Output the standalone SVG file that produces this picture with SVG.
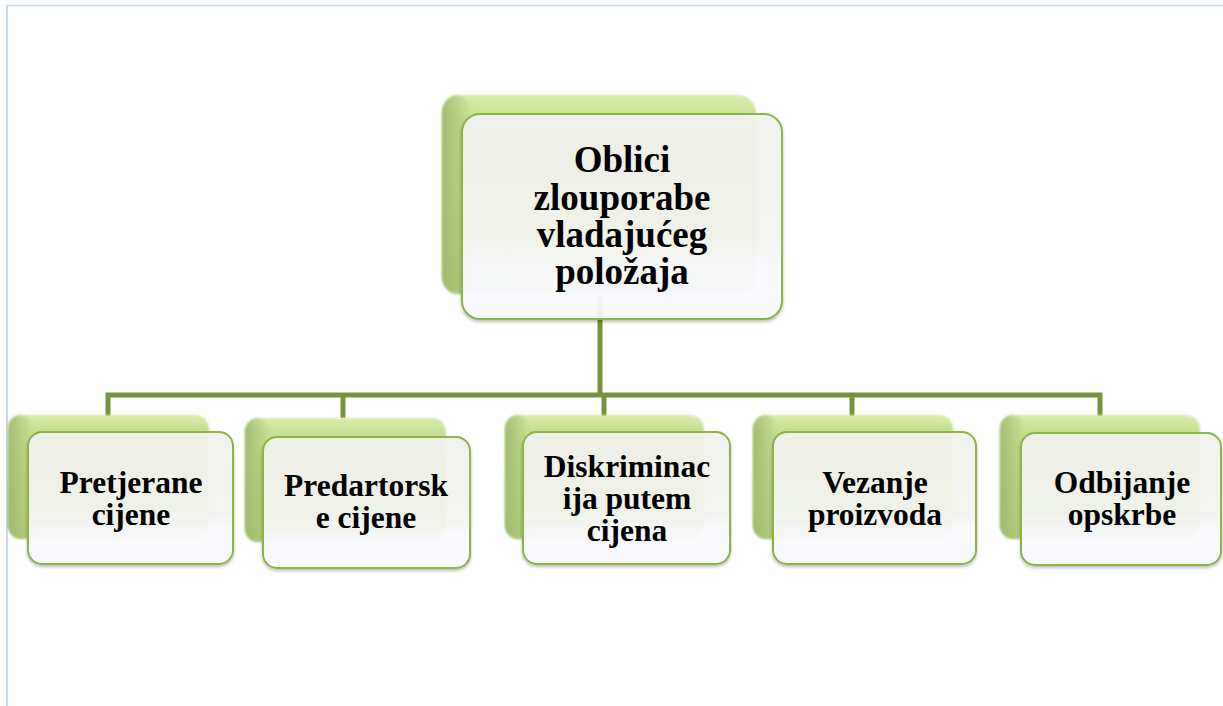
<svg xmlns="http://www.w3.org/2000/svg" width="1223" height="706" viewBox="0 0 1223 706">
<defs>
<linearGradient id="gBack" x1="0" y1="0" x2="0" y2="1">
<stop offset="0" stop-color="#d9ebab"/>
<stop offset="0.12" stop-color="#c7e093"/>
<stop offset="1" stop-color="#b3cd7e"/>
</linearGradient>
<linearGradient id="gBackL" x1="0" y1="0" x2="1" y2="0">
<stop offset="0" stop-color="#9fb86d" stop-opacity="0.9"/>
<stop offset="1" stop-color="#9fb86d" stop-opacity="0"/>
</linearGradient>
<linearGradient id="gFront" x1="0" y1="0" x2="0" y2="1">
<stop offset="0" stop-color="#f2f3ee"/>
<stop offset="0.6" stop-color="#f4f5f0"/>
<stop offset="0.75" stop-color="#fbfaff"/>
<stop offset="1" stop-color="#fbfaff"/>
</linearGradient>
<filter id="soft" x="-5%" y="-5%" width="110%" height="110%">
<feGaussianBlur stdDeviation="1.2"/>
</filter>
<filter id="shadow" x="-5%" y="-5%" width="110%" height="115%">
<feDropShadow dx="0" dy="2" stdDeviation="1.5" flood-color="#000" flood-opacity="0.25"/>
</filter>
</defs>
<style>
.back{fill:url(#gBack);filter:url(#soft)}
.backl{fill:url(#gBackL);filter:url(#soft)}
.front{fill:url(#gFront);fill-opacity:0.93;stroke:#8db34a;stroke-width:2;filter:url(#shadow)}
.conn{fill:none;stroke:#77933c;stroke-width:5}
.t{font-family:"Liberation Serif","Times New Roman",serif;font-weight:bold;fill:#000;text-anchor:middle}
.tm{font-size:37px}
.tc{font-size:31.5px}
.frame{stroke:#c6d9f1;fill:none}
</style>
<line class="frame" x1="6" y1="5.5" x2="1223" y2="5.5" stroke-width="1.5"/>
<line class="frame" x1="7" y1="5" x2="7" y2="706" stroke-width="2"/>

<g id="connectors">
<path class="conn" d="M600,297 V395"/>
<path class="conn" d="M108,416 V395 H1100 V416"/>
<path class="conn" d="M343,395 V418"/>
<path class="conn" d="M604,395 V416"/>
<path class="conn" d="M852,395 V416"/>
</g>

<g id="node-main">
<rect class="back" x="442" y="95" width="314" height="199" rx="18"/>
<rect class="backl" x="442" y="95" width="30" height="199" rx="18"/>
<rect class="front" x="462" y="114" width="320" height="205" rx="18"/>
<text class="t tm" x="622" y="172">Oblici</text>
<text class="t tm" x="622" y="210">zlouporabe</text>
<text class="t tm" x="622" y="247">vladajućeg</text>
<text class="t tm" x="622" y="284">položaja</text>
</g>

<g id="node-1">
<rect class="back" x="8" y="415" width="201" height="124" rx="14"/>
<rect class="backl" x="8" y="415" width="25" height="124" rx="14"/>
<rect class="front" x="28" y="432" width="205" height="132" rx="14"/>
<text class="t tc" x="131" y="493">Pretjerane</text>
<text class="t tc" x="131" y="525">cijene</text>
</g>

<g id="node-2">
<rect class="back" x="245" y="418" width="201" height="124" rx="14"/>
<rect class="backl" x="245" y="418" width="25" height="124" rx="14"/>
<rect class="front" x="263" y="437" width="207" height="131" rx="14"/>
<text class="t tc" x="366" y="496">Predartorsk</text>
<text class="t tc" x="366" y="528">e cijene</text>
</g>

<g id="node-3">
<rect class="back" x="505" y="415" width="199" height="124" rx="14"/>
<rect class="backl" x="505" y="415" width="25" height="124" rx="14"/>
<rect class="front" x="523" y="432" width="207" height="132" rx="14"/>
<text class="t tc" x="627" y="477">Diskriminac</text>
<text class="t tc" x="627" y="509">ija putem</text>
<text class="t tc" x="627" y="541">cijena</text>
</g>

<g id="node-4">
<rect class="back" x="753" y="415" width="200" height="124" rx="14"/>
<rect class="backl" x="753" y="415" width="25" height="124" rx="14"/>
<rect class="front" x="773" y="432" width="203" height="132" rx="14"/>
<text class="t tc" x="875" y="493">Vezanje</text>
<text class="t tc" x="875" y="525">proizvoda</text>
</g>

<g id="node-5">
<rect class="back" x="1000" y="415" width="200" height="124" rx="14"/>
<rect class="backl" x="1000" y="415" width="25" height="124" rx="14"/>
<rect class="front" x="1021" y="433" width="200" height="132" rx="14"/>
<text class="t tc" x="1122" y="493">Odbijanje</text>
<text class="t tc" x="1122" y="525">opskrbe</text>
</g>
</svg>
